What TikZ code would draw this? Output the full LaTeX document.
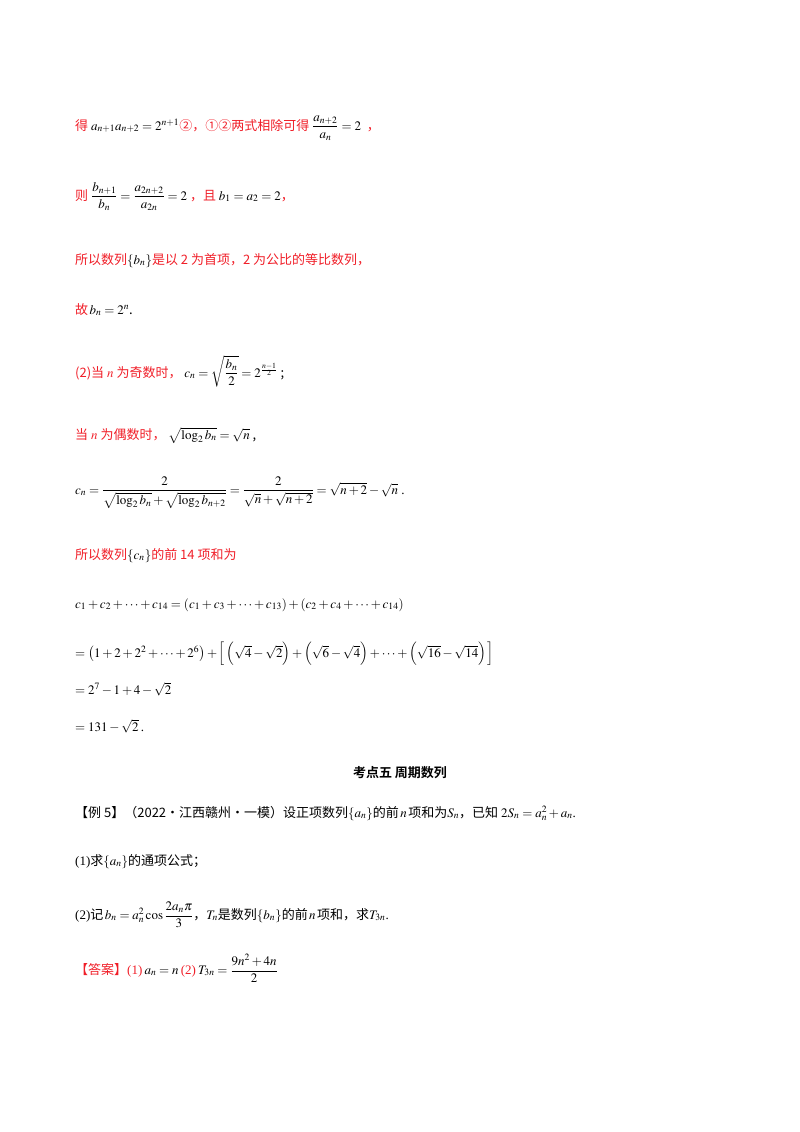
\documentclass[tikz,border=0pt]{standalone}
\usepackage{amsmath}
\usepackage{mathptmx}
\usepackage{fontspec}
\setmainfont{Liberation Serif}
\newfontfamily\cjk{Noto Sans CJK SC}
\newfontfamily\cjkb{Noto Sans CJK SC Bold}
\definecolor{rd}{RGB}{240,30,40}
\begin{document}
\begin{tikzpicture}[x=1pt,y=-1pt,
  txt/.style={anchor=base west,inner sep=0pt,font=\fontsize{13}{15}\selectfont},
  rtxt/.style={txt,text=rd}]
\useasboundingbox (0,0) rectangle (800,1132);
\node[rtxt] (l1) at (75,130) {\cjk 得 \color{black}$a_{n+1}a_{n+2}=2^{n+1}$\color{rd}\cjk ②，①②两式相除可得 \color{black}$\dfrac{a_{n+2}}{a_n}=2$\color{rd}\cjk\ \ ，};
\node[rtxt] (l2) at (75,200) {\cjk 则 \color{black}$\dfrac{b_{n+1}}{b_n}=\dfrac{a_{2n+2}}{a_{2n}}=2$\color{rd}\cjk\ ，且 \color{black}$b_1=a_2=2$\color{rd}\cjk ，};
\node[rtxt] (l3) at (75,264) {\cjk 所以数列\color{black}$\{b_n\}$\color{rd}\cjk 是以 2 为首项，2 为公比的等比数列，};
\node[rtxt] (l4) at (75,314) {\cjk 故\color{black}$\,b_n=2^n$.};
\node[rtxt] (l5) at (75,377) {\cjk (2)当 \color{rd}$n$ \cjk 为奇数时，\ \color{black}$c_n=\sqrt{\dfrac{b_n}{2}}=2^{\frac{n-1}{2}}$\ ;};
\node[rtxt] (l6) at (75,439) {\cjk 当 $n$ 为偶数时，\ \color{black}$\sqrt{\log_2 b_n}=\sqrt{n}$\ ,};
\node[txt] (l7) at (75,494) {$c_n=\dfrac{2}{\sqrt{\log_2 b_n}+\sqrt{\log_2 b_{n+2}}}=\dfrac{2}{\sqrt{n}+\sqrt{n+2}}=\sqrt{n+2}-\sqrt{n}$\ .};
\node[rtxt] (l8) at (75,559) {\cjk 所以数列\color{black}$\{c_n\}$\color{rd}\cjk 的前 14 项和为};
\node[txt] (l9) at (75,608) {$c_1+c_2+\cdots+c_{14}=\left(c_1+c_3+\cdots+c_{13}\right)+\left(c_2+c_4+\cdots+c_{14}\right)$};
\node[txt] (l10) at (75,657) {$=\left(1+2+2^2+\cdots+2^6\right)+\Big[\left(\sqrt4-\sqrt2\right)+\left(\sqrt6-\sqrt4\right)+\cdots+\left(\sqrt{16}-\sqrt{14}\right)\Big]$};
\node[txt] (l11) at (75,694) {$=2^7-1+4-\sqrt2$};
\node[txt] (l12) at (75,731) {$=131-\sqrt2$\,.};
\node[txt,anchor=base,font=\fontsize{13}{15}\selectfont\cjkb] (t) at (400,777) {考点五\ 周期数列};
\node[txt] (e5) at (75,817) {\cjk 【例 5】（2022·江西赣州·一模）设正项数列\rmfamily$\{a_n\}$\cjk 的前\rmfamily$\,n\,$\cjk 项和为\rmfamily$S_n$\cjk ，已知\rmfamily$\;2S_n=a_n^2+a_n$.};
\node[txt] (q1) at (75,865) {(1)\cjk 求\rmfamily$\{a_n\}$\cjk 的通项公式；};
\node[txt] (q2) at (75,919) {(2)\cjk 记\rmfamily$\,b_n=a_n^2\cos\dfrac{2a_n\pi}{3}$\cjk ，\rmfamily$T_n$\cjk 是数列\rmfamily$\{b_n\}$\cjk 的前\rmfamily$\,n\,$\cjk 项和，求\rmfamily$T_{3n}$.};
\node[rtxt] (ans) at (75,974) {\cjk 【答案】\rmfamily(1)\,\color{black}$a_n=n$\,\color{rd}(2)\,\color{black}$T_{3n}=\dfrac{9n^2+4n}{2}$};
\end{tikzpicture}
\end{document}
